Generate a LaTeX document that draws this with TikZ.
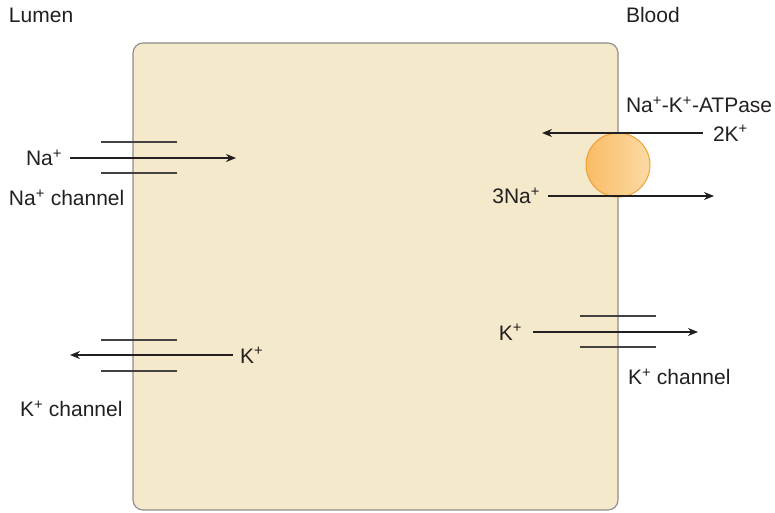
\documentclass[tikz,border=0pt]{standalone}
\usepackage{fontspec}
\setmainfont{Liberation Sans}
\usepackage{xcolor}
\usetikzlibrary{arrows.meta,positioning}

\definecolor{cellfill}{RGB}{245,233,203}
\definecolor{cellline}{RGB}{140,140,140}
\definecolor{inkline}{RGB}{35,31,32}
\definecolor{pumpline}{RGB}{240,160,50}
\definecolor{pumpdark}{RGB}{249,188,102}
\definecolor{pumplight}{RGB}{252,218,165}

\newcommand{\ionp}[1]{#1\textsuperscript{+}}

\begin{document}
\begin{tikzpicture}[
  x=1pt, y=-1pt,
  font=\fontsize{21}{25}\selectfont,
  cell/.style={draw=cellline, line width=1.1pt, fill=cellfill, rounded corners=10pt},
  lbl/.style={inner sep=0pt, outer sep=0pt, text=inkline},
  chan/.style={draw=inkline!85, line width=1.2pt},
  flow/.style={draw=inkline, line width=1.2pt, -{Stealth[length=10pt, width=8pt]}},
  pump/.style={circle, draw=pumpline, line width=1pt, left color=pumpdark, right color=pumplight, minimum size=64pt, inner sep=0pt}
]
\useasboundingbox (0,0) rectangle (775,513);

% Cell.
\draw[cell] (133,43) rectangle (618,510);

% Side labels.
\node[lbl, anchor=west] (lumen) at (9,15) {Lumen};
\node[lbl, anchor=west] (blood) at (626,15) {Blood};

% Apical Na+ channel.
\draw[chan] (101,142) -- ++(76,0);
\draw[chan] (101,173) -- ++(76,0);
\node[lbl, anchor=east] (naL) at (62,158) {\ionp{Na}};
\coordinate (naIn) at (236,158);
\draw[flow, shorten <=8pt] (naL.east) -- (naIn);
\node[lbl, anchor=west] (nachan) at (9,198) {\ionp{Na} channel};

% Apical K+ channel.
\draw[chan] (101,340) -- ++(76,0);
\draw[chan] (101,371) -- ++(76,0);
\node[lbl, anchor=west] (kL) at (240,355) {\ionp{K}};
\coordinate (kOut) at (70,355);
\draw[flow, shorten <=7pt] (kL.west) -- (kOut);
\node[lbl, anchor=west] (kchanL) at (20,409) {\ionp{K} channel};

% Na+-K+-ATPase.
\node[pump] (atp) at (618,165) {};
\node[lbl, anchor=west] (atplbl) at (626,105) {\ionp{Na}-\ionp{K}-ATPase};
\node[lbl, anchor=west] (k2) at (713,133) {2\ionp{K}};
\coordinate (k2In) at (542,133);
\draw[flow, shorten <=10pt] (k2.west) -- (k2In);
\node[lbl, anchor=east] (na3) at (540,196) {3\ionp{Na}};
\coordinate (na3Out) at (714,196);
\draw[flow, shorten <=8pt] (na3.east) -- (na3Out);

% Basolateral K+ channel.
\draw[chan] (580,316) -- ++(76,0);
\draw[chan] (580,347) -- ++(76,0);
\node[lbl, anchor=east] (kR) at (522,332) {\ionp{K}};
\coordinate (kROut) at (698,332);
\draw[flow, shorten <=11pt] (kR.east) -- (kROut);
\node[lbl, anchor=west] (kchanR) at (628,377) {\ionp{K} channel};
\end{tikzpicture}
\end{document}
